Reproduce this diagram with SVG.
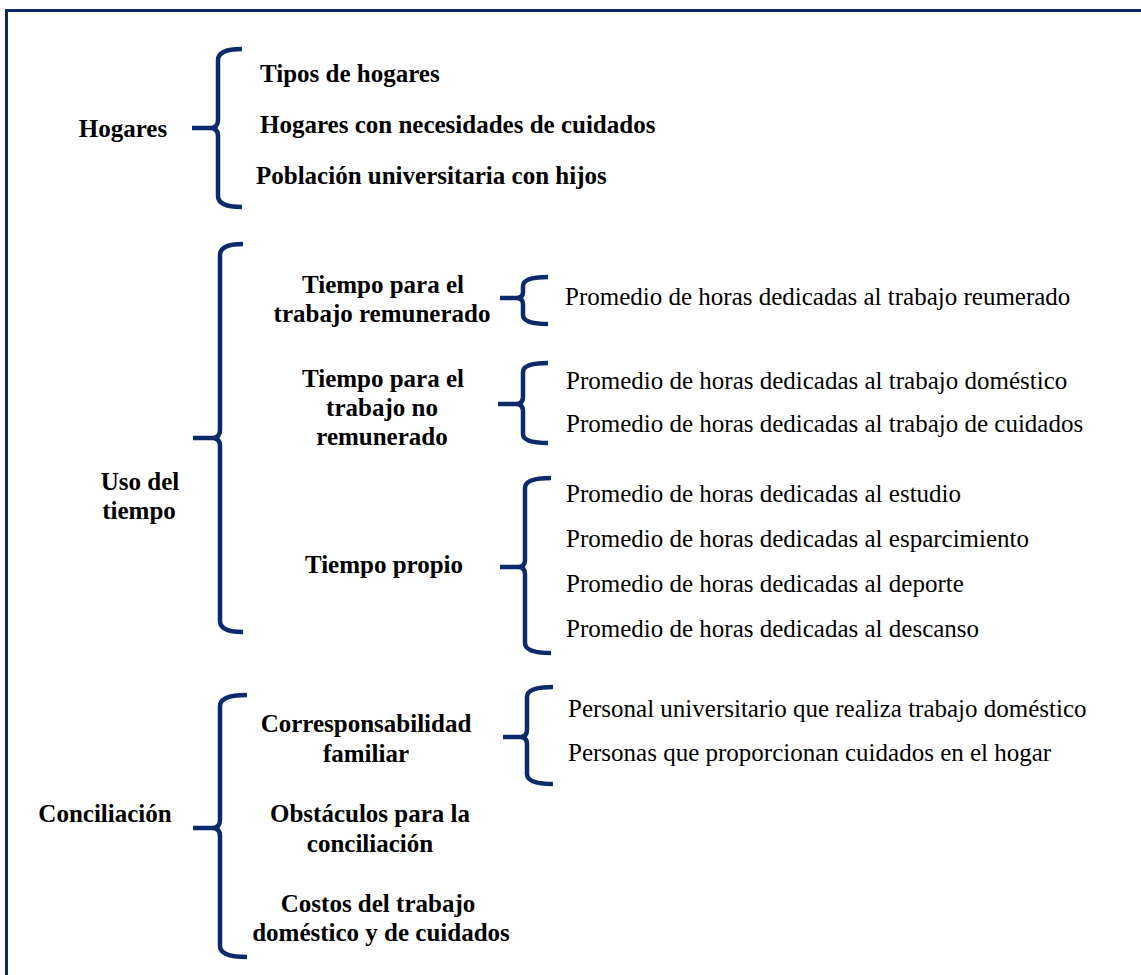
<svg xmlns="http://www.w3.org/2000/svg" width="1141" height="975" viewBox="0 0 1141 975">
<style>
.b{font-family:"Liberation Serif","Times New Roman",serif;font-weight:bold;font-size:25px;fill:#000}
.r{font-family:"Liberation Serif","Times New Roman",serif;font-size:25px;fill:#000}
.c{text-anchor:middle}
.br{fill:none;stroke:#0b2a6b;stroke-width:4.5;stroke-linejoin:round}
</style>
<rect x="0" y="0" width="1141" height="975" fill="#fff"/>
<rect x="6.5" y="10.5" width="1150" height="990" fill="none" stroke="#0b2868" stroke-width="3"/>
<g id="connectors">
<path class="br" d="M242,49 Q218,49 218,60 L218,120 Q218,128 210,128 L192,128 M210,128 Q218,128 218,136 L218,196 Q218,207 242,207"/>
<path class="br" d="M243,244 Q220,244 220,255 L220,430 Q220,438 212,438 L193,438 M212,438 Q220,438 220,446 L220,621 Q220,632 243,632"/>
<path class="br" d="M548,277 Q523,277 523,286 L523,292 Q523,298 516,298 L500,298 M516,298 Q523,298 523,304 L523,315 Q523,324 548,324"/>
<path class="br" d="M548,363 Q523,363 523,372 L523,397 Q523,404 516,404 L498,404 M516,404 Q523,404 523,411 L523,434 Q523,443 548,443"/>
<path class="br" d="M551,478 Q525,478 525,488 L525,560 Q525,567 518,567 L500,567 M518,567 Q525,567 525,574 L525,643 Q525,653 551,653"/>
<path class="br" d="M553,687 Q527,687 527,697 L527,730 Q527,737 520,737 L503,737 M520,737 Q527,737 527,744 L527,774 Q527,784 553,784"/>
<path class="br" d="M247,695 Q220,695 220,706 L220,820 Q220,828 212,828 L193,828 M212,828 Q220,828 220,836 L220,946 Q220,957 247,957"/>
</g>
<g id="hogares"><text class="b c" x="123" y="137">Hogares</text></g>
<g id="tipos"><text class="b" x="260" y="82">Tipos de hogares</text></g>
<g id="necesidades"><text class="b" x="260" y="133">Hogares con necesidades de cuidados</text></g>
<g id="poblacion"><text class="b" x="256" y="184">Población universitaria con hijos</text></g>
<g id="uso"><text class="b c" x="140" y="490">Uso del</text><text class="b c" x="139" y="519">tiempo</text></g>
<g id="remunerado"><text class="b c" x="383" y="293">Tiempo para el</text><text class="b c" x="382" y="322">trabajo remunerado</text></g>
<g id="noremunerado"><text class="b c" x="383" y="387">Tiempo para el</text><text class="b c" x="382" y="416">trabajo no</text><text class="b c" x="382" y="445">remunerado</text></g>
<g id="propio"><text class="b c" x="384" y="573">Tiempo propio</text></g>
<g id="r1"><text class="r" x="565" y="305">Promedio de horas dedicadas al trabajo reumerado</text></g>
<g id="r2"><text class="r" x="566" y="389">Promedio de horas dedicadas al trabajo doméstico</text></g>
<g id="r3"><text class="r" x="566" y="432">Promedio de horas dedicadas al trabajo de cuidados</text></g>
<g id="p1"><text class="r" x="566" y="502">Promedio de horas dedicadas al estudio</text></g>
<g id="p2"><text class="r" x="566" y="547">Promedio de horas dedicadas al esparcimiento</text></g>
<g id="p3"><text class="r" x="566" y="592">Promedio de horas dedicadas al deporte</text></g>
<g id="p4"><text class="r" x="566" y="637">Promedio de horas dedicadas al descanso</text></g>
<g id="conciliacion"><text class="b c" x="105" y="822">Conciliación</text></g>
<g id="corresp"><text class="b c" x="366" y="732">Corresponsabilidad</text><text class="b c" x="366" y="762">familiar</text></g>
<g id="obstaculos"><text class="b c" x="370" y="822">Obstáculos para la</text><text class="b c" x="370" y="852">conciliación</text></g>
<g id="costos"><text class="b c" x="378" y="912">Costos del trabajo</text><text class="b c" x="381" y="941">doméstico y de cuidados</text></g>
<g id="c1"><text class="r" x="568" y="717">Personal universitario que realiza trabajo doméstico</text></g>
<g id="c2"><text class="r" x="568" y="761">Personas que proporcionan cuidados en el hogar</text></g>
</svg>
